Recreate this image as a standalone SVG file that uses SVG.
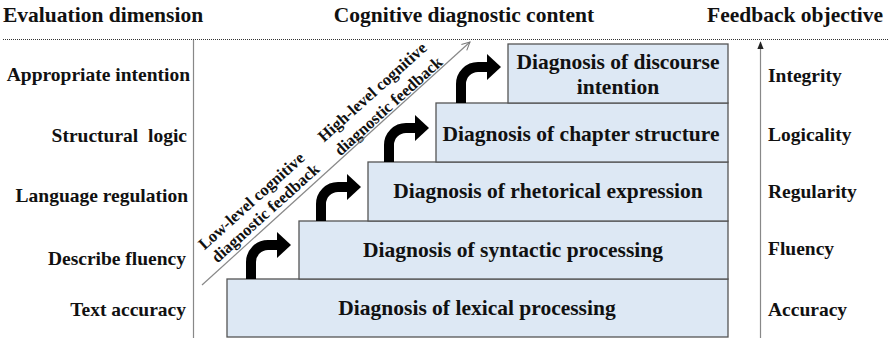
<svg xmlns="http://www.w3.org/2000/svg" width="889" height="340" viewBox="0 0 889 340">
  <defs>
    <style>
      text { font-family: "Liberation Serif", "Times New Roman", serif; font-weight: bold; fill: #111; }
      .head { font-size: 21.5px; }
      .lbl { font-size: 19.5px; }
      .left { text-anchor: end; }
      .box rect { fill: #dde8f4; stroke: #555; stroke-width: 1.3; }
      .box text { font-size: 21.5px; text-anchor: middle; }
      .diag { font-size: 16.5px; text-anchor: middle; }
      .step { fill: none; stroke: #000; stroke-width: 10; }
      .guide { stroke: #888; stroke-width: 1.2; fill: none; }
    </style>
    <marker id="open" viewBox="0 0 10 10" refX="9" refY="5" markerWidth="10" markerHeight="10" markerUnits="userSpaceOnUse" orient="auto">
      <path d="M1,1 L9,5 L1,9" fill="none" stroke="#777" stroke-width="1"/>
    </marker>
    <marker id="solid" viewBox="0 0 10 10" refX="9" refY="5" markerWidth="8" markerHeight="8" markerUnits="userSpaceOnUse" orient="auto">
      <path d="M0,1 L10,5 L0,9 Z" fill="#222"/>
    </marker>
  </defs>

  <!-- column headings -->
  <g id="headings">
    <text class="head" x="3" y="22">Evaluation dimension</text>
    <text class="head" x="464" y="22" text-anchor="middle">Cognitive diagnostic content</text>
    <text class="head" x="707" y="22">Feedback objective</text>
  </g>
  <line x1="3" y1="39.5" x2="889" y2="39.5" stroke="#333" stroke-width="1" stroke-dasharray="1 1"/>

  <!-- evaluation dimensions -->
  <g id="dimensions">
    <text class="lbl left" x="190" y="81">Appropriate intention</text>
    <text class="lbl left" x="187" y="142" xml:space="preserve">Structural  logic</text>
    <text class="lbl left" x="188" y="202">Language regulation</text>
    <text class="lbl left" x="186" y="265">Describe fluency</text>
    <text class="lbl left" x="186" y="316">Text accuracy</text>
  </g>

  <!-- feedback objectives -->
  <g id="objectives">
    <text class="lbl" x="768" y="82">Integrity</text>
    <text class="lbl" x="768" y="141">Logicality</text>
    <text class="lbl" x="768" y="198">Regularity</text>
    <text class="lbl" x="768" y="255">Fluency</text>
    <text class="lbl" x="768" y="316">Accuracy</text>
  </g>

  <!-- staircase of diagnoses -->
  <g id="lexical" class="box">
    <rect x="227" y="279" width="501" height="58"/>
    <text x="477" y="315">Diagnosis of lexical processing</text>
  </g>
  <g id="syntactic" class="box">
    <rect x="299" y="221" width="429" height="58"/>
    <text x="513" y="257">Diagnosis of syntactic processing</text>
  </g>
  <g id="rhetorical" class="box">
    <rect x="368" y="162" width="360" height="59"/>
    <text x="548" y="198">Diagnosis of rhetorical expression</text>
  </g>
  <g id="chapter" class="box">
    <rect x="436" y="103" width="292" height="59"/>
    <text x="581" y="141">Diagnosis of chapter structure</text>
  </g>
  <g id="discourse" class="box">
    <rect x="508" y="44" width="220" height="59"/>
    <text x="618" y="69">Diagnosis of discourse</text>
    <text x="618" y="94">intention</text>
  </g>

  <!-- diagonal progression labels -->
  <g id="levels">
    <text class="diag" transform="translate(255,205) rotate(-42)">Low-level cognitive</text>
    <text class="diag" transform="translate(269,217) rotate(-42)">diagnostic feedback</text>
    <text class="diag" transform="translate(376,96) rotate(-42)">High-level cognitive</text>
    <text class="diag" transform="translate(392,110) rotate(-42)">diagnostic feedback</text>
  </g>

  <g id="connectors">
    <!-- axis lines -->
    <line class="guide" x1="193.5" y1="40" x2="193.5" y2="338"/>
    <line class="guide" x1="760.5" y1="338" x2="760.5" y2="42" stroke="#666" marker-end="url(#solid)"/>
    <line class="guide" x1="202" y1="285" x2="470" y2="42" marker-end="url(#open)"/>
    <!-- step-up arrows -->
    <path class="step" d="M251,279 V262 A17,17 0 0 1 268,245 H279"/>
    <polygon points="277,232 291,245 277,258"/>
    <path class="step" d="M321,221 V204 A17,17 0 0 1 338,187 H349"/>
    <polygon points="347,174 361,187 347,200"/>
    <path class="step" d="M389,162 V145 A17,17 0 0 1 406,128 H417"/>
    <polygon points="415,115 429,128 415,141"/>
    <path class="step" d="M461,103 V84 A17,17 0 0 1 478,67 H489"/>
    <polygon points="487,54 501,67 487,80"/>
  </g>
</svg>
